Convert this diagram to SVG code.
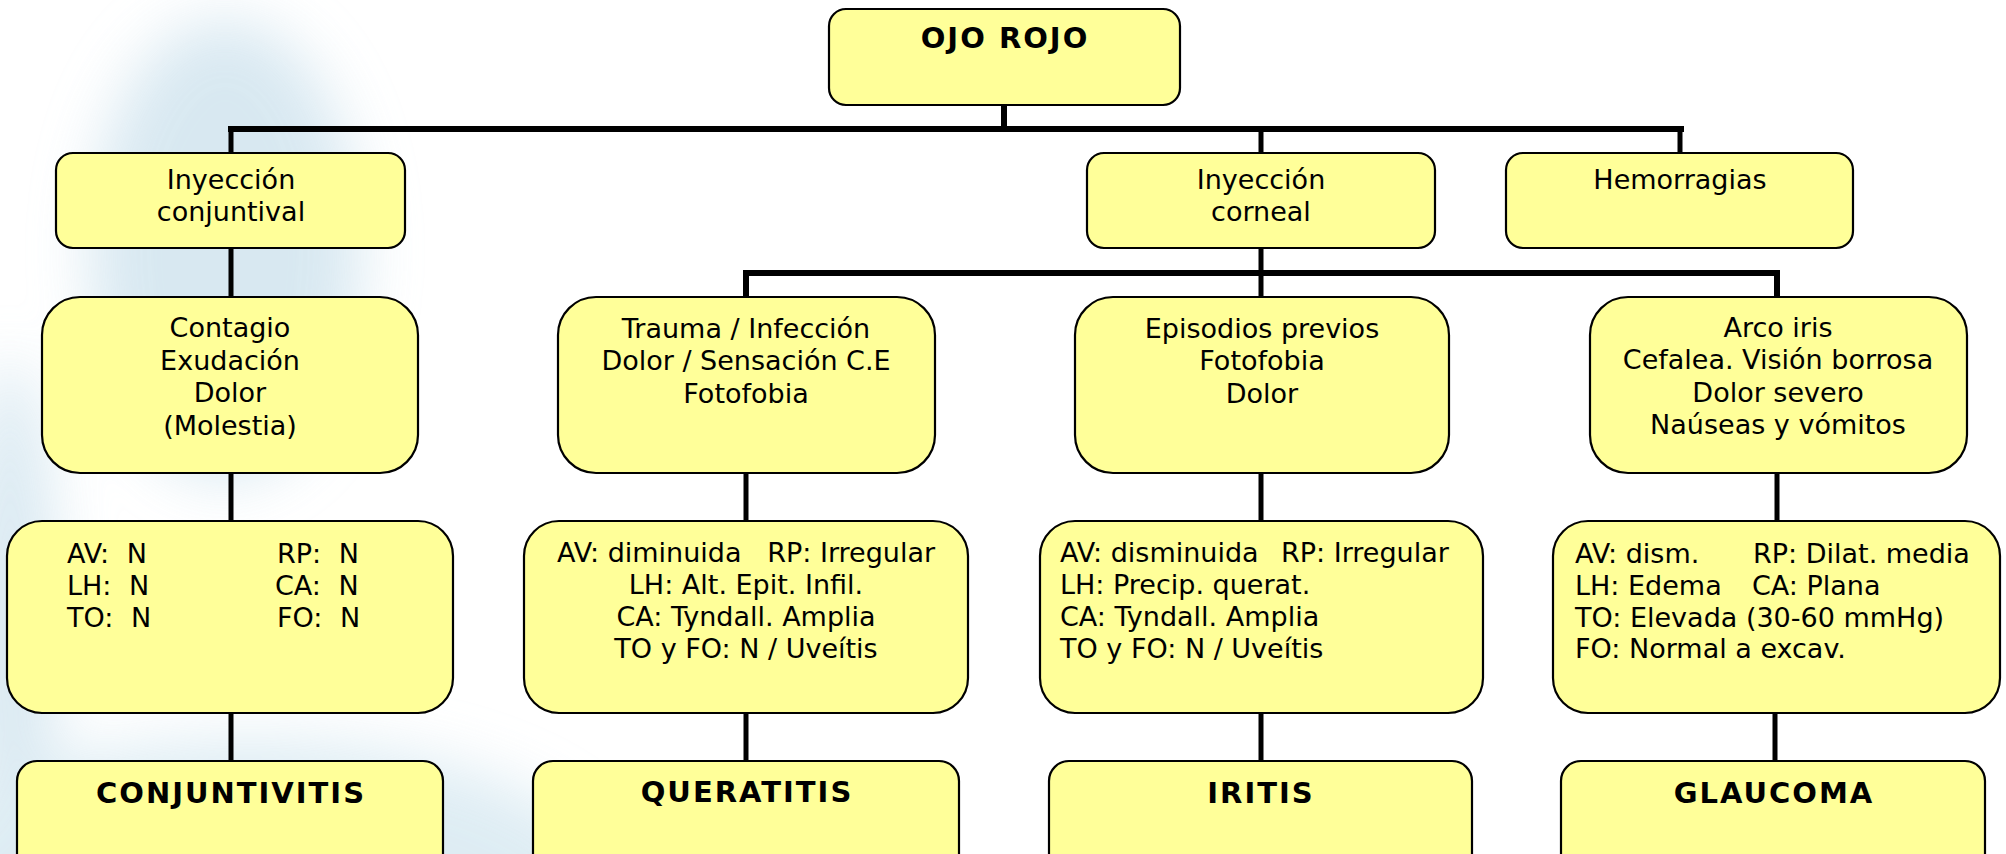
<svg xmlns="http://www.w3.org/2000/svg" width="2006" height="854" viewBox="0 0 2006 854">
<style>
.box{fill:#FFFF99;stroke:#000;stroke-width:2.2}
.t{font-family:"DejaVu Sans","Verdana",sans-serif;font-size:27px;fill:#000}
.c{text-anchor:middle}
.b{font-family:"DejaVu Sans","Verdana",sans-serif;font-weight:bold;font-size:29px;fill:#000;text-anchor:middle;letter-spacing:2px}
.bus{stroke:#000;stroke-width:6;fill:none}
.v{stroke:#000;stroke-width:5;fill:none}
</style>
<defs>
<filter id="blur1" x="-50%" y="-50%" width="200%" height="200%"><feGaussianBlur stdDeviation="30"/></filter>
</defs>
<rect width="2006" height="854" fill="#fff"/>
<g id="background" filter="url(#blur1)" opacity="0.8">
<ellipse cx="225" cy="250" rx="135" ry="230" fill="#cfe3ee"/>
<ellipse cx="10" cy="640" rx="45" ry="280" fill="#cfe3ee"/>
<ellipse cx="250" cy="890" rx="360" ry="150" fill="#d6e8f1"/>
</g>
<g id="connectors">
<path class="bus" d="M231 132 V129 H1681 V132"/>
<path class="bus" d="M1004 105 V129"/>
<path class="v" d="M231 129 V153"/>
<path class="v" d="M1261 129 V153"/>
<path class="v" d="M1680 129 V153"/>
<path class="v" d="M231 248 V297"/>
<path class="v" d="M1261 248 V273"/>
<path class="bus" d="M746 297 V273 H1777 V297"/>
<path class="v" d="M1261 273 V297"/>
<path class="v" d="M231 473 V521"/>
<path class="v" d="M231 713 V761"/>
<path class="v" d="M746 473 V521"/>
<path class="v" d="M746 713 V761"/>
<path class="v" d="M1261 473 V521"/>
<path class="v" d="M1261 713 V761"/>
<path class="v" d="M1777 473 V521"/>
<path class="v" d="M1775 713 V761"/>
</g>
<g id="ojo-rojo">
<rect class="box" x="829" y="9" width="351" height="96" rx="17"/>
<text class="b" x="1005" y="48">OJO ROJO</text>
</g>
<g id="inyeccion-conjuntival">
<rect class="box" x="56" y="153" width="349" height="95" rx="17"/>
<text class="t c" x="231" y="189" font-size="26">Inyección</text>
<text class="t c" x="231" y="221" font-size="26">conjuntival</text>
</g>
<g id="inyeccion-corneal">
<rect class="box" x="1087" y="153" width="348" height="95" rx="17"/>
<text class="t c" x="1261" y="189" font-size="26">Inyección</text>
<text class="t c" x="1261" y="221" font-size="26">corneal</text>
</g>
<g id="hemorragias">
<rect class="box" x="1506" y="153" width="347" height="95" rx="17"/>
<text class="t c" x="1680" y="189" font-size="26">Hemorragias</text>
</g>
<g id="contagio">
<rect class="box" x="42" y="297" width="376" height="176" rx="38"/>
<text class="t c" x="230" y="337">Contagio</text>
<text class="t c" x="230" y="370">Exudación</text>
<text class="t c" x="230" y="402">Dolor</text>
<text class="t c" x="230" y="435">(Molestia)</text>
</g>
<g id="trauma">
<rect class="box" x="558" y="297" width="377" height="176" rx="38"/>
<text class="t c" x="746" y="338">Trauma / Infección</text>
<text class="t c" x="746" y="370">Dolor / Sensación C.E</text>
<text class="t c" x="746" y="403">Fotofobia</text>
</g>
<g id="episodios">
<rect class="box" x="1075" y="297" width="374" height="176" rx="38"/>
<text class="t c" x="1262" y="338">Episodios previos</text>
<text class="t c" x="1262" y="370">Fotofobia</text>
<text class="t c" x="1262" y="403">Dolor</text>
</g>
<g id="arco-iris">
<rect class="box" x="1590" y="297" width="377" height="176" rx="38"/>
<text class="t c" x="1778" y="337">Arco iris</text>
<text class="t c" x="1778" y="369">Cefalea. Visión borrosa</text>
<text class="t c" x="1778" y="402">Dolor severo</text>
<text class="t c" x="1778" y="434">Naúseas y vómitos</text>
</g>
<g id="exploracion-conjuntivitis">
<rect class="box" x="7" y="521" width="446" height="192" rx="35"/>
<text class="t" x="67" y="563" word-spacing="9">AV: N</text>
<text class="t" x="67" y="595" word-spacing="9">LH: N</text>
<text class="t" x="67" y="627" word-spacing="9">TO: N</text>
<text class="t" x="277" y="563" word-spacing="9">RP: N</text>
<text class="t" x="275" y="595" word-spacing="9">CA: N</text>
<text class="t" x="277" y="627" word-spacing="9">FO: N</text>
</g>
<g id="exploracion-queratitis">
<rect class="box" x="524" y="521" width="444" height="192" rx="35"/>
<text class="t c" x="746" y="562" xml:space="preserve">AV: diminuida   RP: Irregular</text>
<text class="t c" x="746" y="594">LH: Alt. Epit. Infil.</text>
<text class="t c" x="746" y="626">CA: Tyndall. Amplia</text>
<text class="t c" x="746" y="658">TO y FO: N / Uveítis</text>
</g>
<g id="exploracion-iritis">
<rect class="box" x="1040" y="521" width="443" height="192" rx="35"/>
<text class="t" x="1060" y="562">AV: disminuida<tspan x="1281">RP: Irregular</tspan></text>
<text class="t" x="1060" y="594">LH: Precip. querat.</text>
<text class="t" x="1060" y="626">CA: Tyndall. Amplia</text>
<text class="t" x="1060" y="658">TO y FO: N / Uveítis</text>
</g>
<g id="exploracion-glaucoma">
<rect class="box" x="1553" y="521" width="447" height="192" rx="35"/>
<text class="t" x="1575" y="563">AV: dism.<tspan x="1753">RP: Dilat. media</tspan></text>
<text class="t" x="1575" y="595">LH: Edema<tspan x="1752">CA: Plana</tspan></text>
<text class="t" x="1575" y="627">TO: Elevada (30-60 mmHg)</text>
<text class="t" x="1575" y="658">FO: Normal a excav.</text>
</g>
<g id="conjuntivitis">
<rect class="box" x="17" y="761" width="426" height="130" rx="20"/>
<text class="b" x="231" y="803">CONJUNTIVITIS</text>
</g>
<g id="queratitis">
<rect class="box" x="533" y="761" width="426" height="130" rx="20"/>
<text class="b" x="747" y="802">QUERATITIS</text>
</g>
<g id="iritis">
<rect class="box" x="1049" y="761" width="423" height="130" rx="20"/>
<text class="b" x="1261" y="803">IRITIS</text>
</g>
<g id="glaucoma">
<rect class="box" x="1561" y="761" width="424" height="130" rx="20"/>
<text class="b" x="1774" y="803">GLAUCOMA</text>
</g>
</svg>
